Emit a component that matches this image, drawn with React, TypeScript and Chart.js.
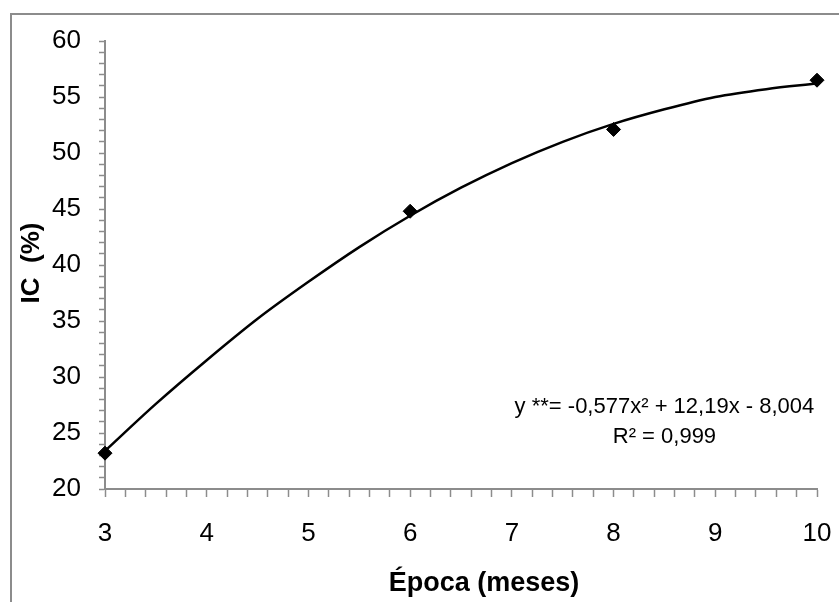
import React, { useEffect, useRef } from "react";
import { Chart, registerables } from "chart.js";

Chart.register(...registerables);

// ---- data ----
const epocas = [3, 6, 8, 10];
const icValues = [23.2, 44.8, 52.1, 56.5];
// fitted curve
const trendX = [3, 3.5, 4, 4.5, 5, 5.5, 6, 6.5, 7, 7.5, 8, 8.5, 9, 9.5, 10];
const trendY = [23.4, 27.6, 31.5, 35.2, 38.5, 41.6, 44.4, 46.9, 49.1, 51.0, 52.6, 53.9, 55.0, 55.7, 56.2];
const xLimits = [3, 10];
const yLimits = [20, 60];
const xTitle = "Época (meses)";
const yTitle = "IC  (%)";
const equationLines = ["y **= -0,577x² + 12,19x - 8,004", "R² = 0,999"];
const equationAnchor = { x: 8.5, y: [26.8, 24.1] };

const FONT = "'Liberation Sans', Arial, sans-serif";
const GREY = "#8c8c8c";

const decorPlugin = {
  id: "decor",
  afterDraw(chart: any) {
    const { ctx, chartArea, scales } = chart;
    ctx.save();
    // outer frame
    ctx.strokeStyle = GREY;
    ctx.lineWidth = 2;
    ctx.strokeRect(11, 14, 900, 700);

    ctx.fillStyle = "#000";
    // x title
    ctx.font = `bold 27px ${FONT}`;
    ctx.textAlign = "center";
    ctx.textBaseline = "alphabetic";
    ctx.fillText(xTitle, (chartArea.left + chartArea.right) / 2 + 23, 591);

    // y title
    ctx.save();
    ctx.translate(32, (chartArea.top + chartArea.bottom) / 2 - 2);
    ctx.rotate(-Math.PI / 2);
    ctx.font = `bold 26px ${FONT}`;
    ctx.textAlign = "center";
    ctx.textBaseline = "middle";
    ctx.fillText(yTitle, 0, 0);
    ctx.restore();

    // equation
    ctx.font = `22px ${FONT}`;
    ctx.textAlign = "center";
    ctx.textBaseline = "alphabetic";
    const ex = scales.x.getPixelForValue(equationAnchor.x);
    equationLines.forEach((line, i) => {
      ctx.fillText(line, ex, scales.y.getPixelForValue(equationAnchor.y[i]));
    });
    ctx.restore();
  },
};

export default function App() {
  const canvasRef = useRef<HTMLCanvasElement | null>(null);

  useEffect(() => {
    if (!canvasRef.current) return;
    const chart = new Chart(canvasRef.current, {
      type: "scatter",
      data: {
        datasets: [
          {
            type: "line",
            label: "trend",
            data: trendX.map((x, i) => ({ x, y: trendY[i] })),
            borderColor: "#000",
            borderWidth: 2.5,
            pointRadius: 0,
            fill: false,
            cubicInterpolationMode: "monotone",
            clip: false,
            order: 2,
          },
          {
            type: "scatter",
            label: "IC",
            data: epocas.map((x, i) => ({ x, y: icValues[i] })),
            pointStyle: "rectRot",
            pointRadius: 7,
            pointBackgroundColor: "#000",
            pointBorderColor: "#000",
            pointBorderWidth: 1,
            clip: false,
            order: 1,
          },
        ],
      },
      options: {
        animation: false,
        responsive: true,
        maintainAspectRatio: false,
        layout: { padding: { left: 0, right: 22, top: 41, bottom: 0 } },
        plugins: {
          legend: { display: false },
          tooltip: { enabled: false },
        },
        scales: {
          x: {
            type: "linear",
            min: xLimits[0],
            max: xLimits[1],
            afterFit: (s: any) => {
              s.height = 113;
              s.paddingLeft = 0;
              s.paddingRight = 0;
            },
            border: { display: true, color: GREY, width: 2 },
            grid: {
              drawOnChartArea: false,
              drawTicks: true,
              tickLength: 8,
              tickColor: GREY,
              tickWidth: 1.5,
            },
            ticks: {
              stepSize: 0.2,
              autoSkip: false,
              maxRotation: 0,
              padding: 21,
              color: "#000",
              font: { family: FONT, size: 26 },
              callback: (v: any) => {
                const n = Number(v);
                return Math.abs(n - Math.round(n)) < 1e-6 ? String(Math.round(n)) : "";
              },
            },
          },
          y: {
            type: "linear",
            min: yLimits[0],
            max: yLimits[1],
            afterFit: (s: any) => {
              s.width = 105;
              s.paddingTop = 0;
              s.paddingBottom = 0;
            },
            border: { display: true, color: GREY, width: 2 },
            grid: {
              drawOnChartArea: false,
              drawTicks: true,
              tickLength: 6,
              tickColor: GREY,
              tickWidth: 1.5,
            },
            ticks: {
              stepSize: 1,
              autoSkip: false,
              padding: 18,
              color: "#000",
              font: { family: FONT, size: 26 },
              callback: (v: any) => {
                const n = Math.round(Number(v));
                return n % 5 === 0 ? String(n) : "";
              },
            },
          },
        },
      },
      plugins: [decorPlugin],
    });
    return () => chart.destroy();
  }, []);

  return (
    <div
      style={{
        position: "fixed",
        left: 0,
        top: 0,
        width: 839,
        height: 602,
        background: "#fff",
      }}
    >
      <canvas ref={canvasRef} />
    </div>
  );
}
